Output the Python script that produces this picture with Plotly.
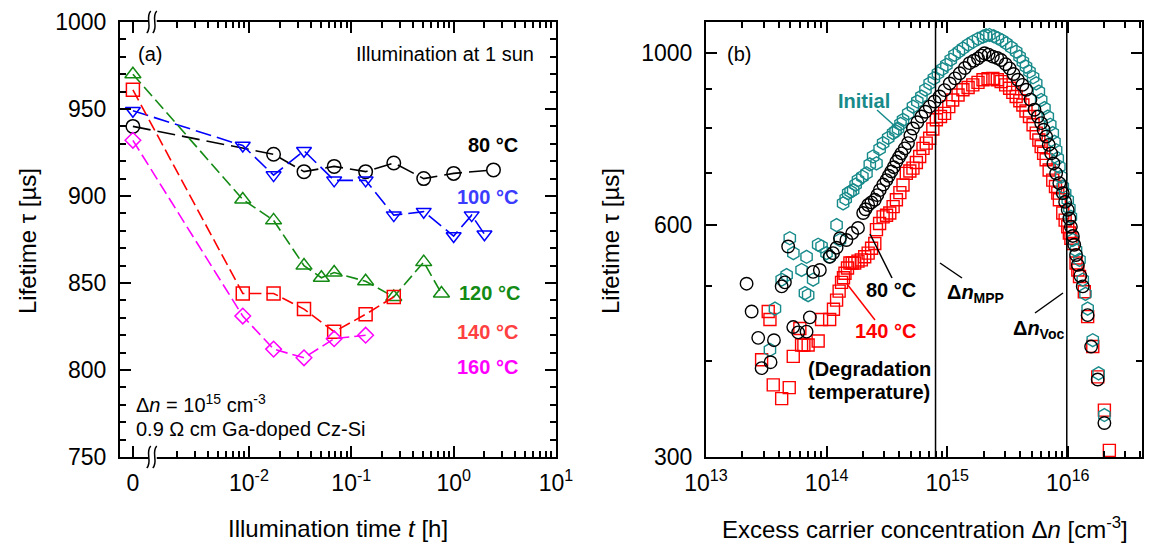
import math
import plotly.graph_objects as go

W, H = 1152, 545
FONT = "Liberation Sans, Arial, sans-serif"

# ---------------- Panel (a): lifetime vs illumination time ----------------
t80 = [0, 0.0174, 0.0345, 0.068, 0.138, 0.26, 0.51, 1.0, 2.45]
tau80 = [940, 924, 914, 917, 914, 919, 910, 913, 915]
t100 = [0, 0.0087, 0.0174, 0.0345, 0.068, 0.138, 0.26, 0.51, 1.0, 1.5, 2.0]
tau100 = [949, 929, 912, 926, 909, 909, 889, 891, 877, 889, 878]
t120 = [0, 0.0087, 0.0174, 0.0345, 0.051, 0.068, 0.138, 0.26, 0.51, 0.76]
tau120 = [970, 898, 886, 860, 853, 856, 851, 842, 862, 844]
t140 = [0, 0.0087, 0.0174, 0.0345, 0.068, 0.138, 0.26]
tau140 = [961, 844, 844, 835, 822, 832, 842]
t160 = [0, 0.0087, 0.0174, 0.0345, 0.068, 0.138]
tau160 = [932, 831, 812, 807, 818, 820]

a_xtick_labels = ["0", "10<sup>-2</sup>", "10<sup>-1</sup>", "10<sup>0</sup>", "10<sup>1</sup>"]
a_ytick_vals = [750, 800, 850, 900, 950, 1000]

# ---------------- Panel (b): lifetime vs excess carrier density (n [cm^-3], tau [us]) ----------------
b_init = [
    (3.39e13, 413), (3.73e13, 467), (4.24e13, 509), (4.66e13, 516), (4.95e13, 576), (5.3e13, 551),
    (6.20e13, 524), (6.61e13, 489), (6.82e13, 545), (7.03e13, 486), (7.73e13, 509), (8.51e13, 565),
    (9.08e13, 562), (9.98e13, 551), (1.06e14, 545), (1.21e14, 599), (1.29e14, 573), (1.37e14, 639),
    (1.44e14, 648), (1.51e14, 659), (1.58e14, 662), (1.66e14, 665), (1.74e14, 676), (1.82e14, 685),
    (1.98e14, 692), (2.14e14, 699), (2.28e14, 718), (2.43e14, 735), (2.59e14, 720), (2.75e14, 752),
    (2.94e14, 765), (3.24e14, 777), (3.56e14, 788), (3.73e14, 793), (3.91e14, 799), (4.1e14, 810),
    (4.30e14, 820), (4.75e14, 836), (5.20e14, 853), (5.65e14, 866), (6.11e14, 879), (6.6e14, 897),
    (7.15e14, 914), (7.75e14, 928), (8.38e14, 942), (9.1e14, 954), (9.84e14, 966), (1.07e15, 981),
    (1.15e15, 995), (1.25e15, 1005), (1.35e15, 1015), (1.49e15, 1026), (1.63e15, 1035), (1.8e15, 1044),
    (1.98e15, 1051), (2.1e15, 1055), (2.24e15, 1056), (2.43e15, 1052), (2.63e15, 1046), (2.85e15, 1039),
    (3.09e15, 1030), (3.4e15, 1018), (3.73e15, 1005), (3.98e15, 990), (4.24e15, 975), (4.5e15, 961),
    (4.81e15, 947), (5.15e15, 931), (5.47e15, 914), (5.75e15, 892), (6.01e15, 870), (6.4e15, 849),
    (6.82e15, 828), (7.15e15, 808), (7.50e15, 788), (7.75e15, 768), (8.00e15, 749), (8.25e15, 731),
    (8.51e15, 713), (8.8e15, 692), (9.08e15, 672), (9.5e15, 659), (9.98e15, 646), (1.03e16, 630),
    (1.06e16, 614), (1.10e16, 573), (1.17e16, 556), (1.25e16, 540), (1.33e16, 509), (1.4e16, 488),
    (1.46e16, 467), (1.61e16, 425), (1.80e16, 385), (2.01e16, 340)]

b_80 = [
    (2.17e13, 503), (2.39e13, 463), (2.71e13, 428), (2.89e13, 391), (3.43e13, 398), (3.66e13, 425),
    (4.24e13, 499), (4.51e13, 505), (4.80e13, 562), (5.29e13, 442), (5.81e13, 435), (6.82e13, 436),
    (7.26e13, 455), (7.73e13, 521), (8.79e13, 524), (1.06e14, 545), (1.13e14, 551), (1.21e14, 560),
    (1.29e14, 576), (1.46e14, 573), (1.63e14, 585), (1.82e14, 594), (2.01e14, 621), (2.1e14, 628),
    (2.21e14, 636), (2.35e14, 641), (2.51e14, 646), (2.63e14, 655), (2.76e14, 665), (2.95e14, 676),
    (3.13e14, 685), (3.28e14, 694), (3.44e14, 703), (3.6e14, 712), (3.79e14, 724), (3.98e14, 733),
    (4.17e14, 742), (4.45e14, 753), (4.73e14, 765), (4.95e14, 782), (5.20e14, 799), (5.65e14, 814),
    (6.11e14, 828), (6.6e14, 840), (7.15e14, 853), (7.85e14, 866), (8.65e14, 879), (9.5e14, 896),
    (1.05e15, 914), (1.16e15, 928), (1.27e15, 942), (1.4e15, 957), (1.53e15, 971), (1.66e15, 978),
    (1.80e15, 985), (1.92e15, 993), (2.04e15, 1000), (2.2e15, 996), (2.39e15, 990), (2.6e15, 986),
    (2.80e15, 980), (3.05e15, 968), (3.29e15, 956), (3.55e15, 940), (3.85e15, 924), (4.2e15, 910),
    (4.52e15, 897), (4.9e15, 871), (5.29e15, 845), (5.65e15, 828), (6.01e15, 812), (6.3e15, 796),
    (6.61e15, 780), (6.95e15, 761), (7.27e15, 742), (7.6e15, 720), (8.00e15, 699), (8.5e15, 679),
    (9.08e15, 659), (9.5e15, 642), (9.98e15, 627), (1.03e16, 611), (1.06e16, 596), (1.1e16, 580),
    (1.13e16, 565), (1.17e16, 548), (1.21e16, 532), (1.27e16, 515), (1.33e16, 499), (1.46e16, 458),
    (1.56e16, 417), (1.77e16, 378), (2.01e16, 332)]

b_140 = [
    (2.89e13, 401), (3.28e13, 463), (3.39e13, 452), (3.61e13, 372), (4.24e13, 357), (4.90e13, 369),
    (5.29e13, 405), (6.00e13, 440), (6.20e13, 419), (6.48e13, 419), (7.03e13, 419), (8.51e13, 424),
    (9.08e13, 452), (1.06e14, 452), (1.14e14, 466), (1.21e14, 479), (1.27e14, 492), (1.33e14, 505),
    (1.38e14, 512), (1.42e14, 519), (1.49e14, 527), (1.56e14, 535), (1.63e14, 535), (1.71e14, 535),
    (1.82e14, 538), (1.94e14, 540), (2.07e14, 545), (2.21e14, 551), (2.36e14, 559), (2.51e14, 567),
    (2.59e14, 591), (2.75e14, 602), (2.94e14, 614), (3.14e14, 617), (3.34e14, 621), (3.56e14, 633),
    (3.79e14, 646), (4.05e14, 660), (4.30e14, 675), (4.58e14, 699), (4.9e14, 704), (5.20e14, 710),
    (5.55e14, 722), (5.91e14, 735), (6.30e14, 753), (6.7e14, 765), (7.15e14, 776), (7.6e14, 798),
    (8.13e14, 820), (8.8e14, 828), (9.51e14, 836), (1.03e15, 853), (1.11e15, 870), (1.23e15, 883),
    (1.35e15, 897), (1.49e15, 903), (1.63e15, 910), (1.8e15, 917), (1.98e15, 924), (2.18e15, 927),
    (2.39e15, 928), (2.6e15, 924), (2.80e15, 919), (3.05e15, 910), (3.29e15, 901), (3.5e15, 890),
    (3.73e15, 879), (4.0e15, 868), (4.24e15, 857), (4.5e15, 842), (4.81e15, 828), (5.15e15, 808),
    (5.47e15, 788), (5.75e15, 772), (6.01e15, 757), (6.3e15, 742), (6.61e15, 728), (7.0e15, 706),
    (7.50e15, 685), (7.9e15, 672), (8.26e15, 659), (8.51e15, 646), (9.08e15, 621), (9.5e15, 608),
    (9.98e15, 596), (1.03e16, 585), (1.06e16, 576), (1.10e16, 567), (1.17e16, 535), (1.21e16, 524),
    (1.25e16, 514), (1.37e16, 491), (1.46e16, 456), (1.61e16, 417), (1.77e16, 381), (2.01e16, 345),
    (2.21e16, 306)]

dn_mpp = 8.0e14
dn_voc = 9.8e15

b_xtick_vals = [1e13, 1e14, 1e15, 1e16]
b_xtick_labels = ["10<sup>13</sup>", "10<sup>14</sup>", "10<sup>15</sup>", "10<sup>16</sup>"]
b_ytick_vals = [300, 600, 1000]
b_yminor_vals = [400, 500, 700, 800, 900]

# ---------------- helpers ----------------
ZERO_POS = -3.134   # axis position standing for t = 0 (left of the break)
BREAK_POS = -2.93


def tpos(ts):
    return [math.log10(t) if t > 0 else ZERO_POS for t in ts]


def px(x):
    return x / W


def py(y):
    return 1 - y / H


fig = go.Figure()

series_a = [
    (t80, tau80, "#000000", "circle-open", 13.5, "18px,7px"),
    (t100, tau100, "#0000ff", "triangle-down-open", 13, "16px,6px"),
    (t120, tau120, "#138a13", "triangle-up-open", 14, "12px,5px"),
    (t140, tau140, "#ff0000", "square-open", 13, "12px,5px"),
    (t160, tau160, "#ff00ff", "diamond-open", 12, "12px,5px"),
]
for t, tau, col, sym, size, dash in series_a:
    fig.add_trace(go.Scatter(
        x=tpos(t), y=tau, mode="lines+markers", xaxis="x", yaxis="y",
        line=dict(color=col, width=1.6, dash=dash),
        marker=dict(symbol=sym, size=size, color=col, line=dict(width=1.5, color=col)),
        showlegend=False, cliponaxis=False, hoverinfo="skip"))

TEAL = "#178a8a"
series_b = [
    (b_140, "#ff0000", "square-open", 12),
    (b_init, TEAL, "hexagon-open", 13),
    (b_80, "#000000", "circle-open", 12.5),
]
for pts, col, sym, size in series_b:
    fig.add_trace(go.Scatter(
        x=[p[0] for p in pts], y=[p[1] for p in pts], mode="markers", xaxis="x2", yaxis="y2",
        marker=dict(symbol=sym, size=size, color=col, line=dict(width=1.4, color=col)),
        showlegend=False, hoverinfo="skip"))

minor_a = [math.log10(k * 10 ** d) for d in range(-3, 1) for k in range(2, 10)]
minor_b = [k * 10 ** d for d in range(13, 17) for k in range(2, 10) if k * 10 ** d < 4.1e16]

common = dict(showline=True, linecolor="black", linewidth=2, mirror="allticks", ticks="inside",
              tickcolor="black", tickwidth=1.5, ticklen=11, showgrid=False, zeroline=False,
              automargin=False,
              tickfont=dict(family=FONT, size=23, color="black"))
minor_common = dict(ticks="inside", ticklen=6, tickcolor="black", tickwidth=1.5, showgrid=False)

ydom = [py(457), py(22)]
fig.update_layout(
    width=W, height=H, margin=dict(l=0, r=0, t=0, b=0, autoexpand=False),
    paper_bgcolor="white", plot_bgcolor="white",
    font=dict(family=FONT, color="black"),
    xaxis=dict(domain=[px(120), px(556)], range=[-3.26, 1.0], anchor="y", ticklabelstandoff=4,
               tickmode="array", tickvals=[ZERO_POS, -2, -1, 0, 1], ticktext=a_xtick_labels,
               minor=dict(tickmode="array", tickvals=minor_a, **minor_common), **common),
    yaxis=dict(domain=ydom, range=[750, 1000], anchor="x", ticklabelstandoff=7,
               tickmode="array", tickvals=a_ytick_vals,
               minor=dict(dtick=10, tick0=750, **minor_common), **common),
    xaxis2=dict(domain=[px(706), px(1142)], type="log", range=[13, 16.615], anchor="y2",
                ticklabelstandoff=4, tickmode="array", tickvals=b_xtick_vals, ticktext=b_xtick_labels,
                minor=dict(tickmode="array", tickvals=minor_b, **minor_common), **common),
    yaxis2=dict(domain=ydom, type="log", range=[math.log10(300), 3.0405], anchor="x2",
                ticklabelstandoff=7, tickmode="array", tickvals=b_ytick_vals,
                minor=dict(tickmode="array", tickvals=b_yminor_vals, **minor_common), **common),
)

shapes = []
# axis break marks on panel (a)
for yb in (22, 457):
    shapes.append(dict(type="rect", xref="x", yref="paper", xsizemode="pixel", ysizemode="pixel",
                       xanchor=BREAK_POS, yanchor=py(yb), x0=-5, x1=3, y0=-3, y1=3,
                       fillcolor="white", line=dict(width=0), layer="above"))
    shapes.append(dict(type="path", xref="x", yref="paper", xsizemode="pixel", ysizemode="pixel",
                       xanchor=BREAK_POS, yanchor=py(yb),
                       path="M -7,-11 C -1,-5 -9,5 -3,11 M -1,-11 C 5,-5 -3,5 3,11",
                       line=dict(color="black", width=1.5), layer="above"))
# vertical reference lines in panel (b)
for xv in (dn_mpp, dn_voc):
    shapes.append(dict(type="line", xref="x2", yref="y2 domain", x0=xv, x1=xv, y0=0, y1=1,
                       line=dict(color="black", width=1.5)))
# leader lines
leaders = [
    ((877, 110), (897, 128), TEAL),
    ((870, 234), (892, 278), "black"),
    ((847, 284), (875, 320), "#ff0000"),
    ((940, 263), (962, 278), "black"),
    ((1035, 313), (1063, 293), "black"),
]
for (x0, y0), (x1, y1), col in leaders:
    shapes.append(dict(type="line", xref="paper", yref="paper", x0=px(x0), y0=py(y0),
                       x1=px(x1), y1=py(y1), line=dict(color=col, width=1.5)))
fig.update_layout(shapes=shapes)

annotations = []


def ann(text, x, y, size=20, color="black", xanchor="center", yanchor="middle", angle=0):
    annotations.append(dict(text=text, x=px(x), y=py(y), xref="paper", yref="paper",
                            xanchor=xanchor, yanchor=yanchor, showarrow=False, textangle=angle,
                            font=dict(family=FONT, size=size, color=color)))


ann("(a)", 150, 54)
ann("Illumination at 1 sun", 536, 54, xanchor="right")
ann("<b>80 °C</b>", 520, 145, xanchor="right")
ann("<b>100 °C</b>", 520, 197, color="#3c3cff", xanchor="right")
ann("<b>120 °C</b>", 522, 293, color="#138a13", xanchor="right")
ann("<b>140 °C</b>", 520, 332, color="#ff4040", xanchor="right")
ann("<b>160 °C</b>", 520, 367, color="#ff00ff", xanchor="right")
ann("Δ<i>n</i> = 10<sup>15</sup> cm<sup>-3</sup>", 134, 403, xanchor="left")
ann("0.9 Ω cm Ga-doped Cz-Si", 134, 429, xanchor="left")

ann("(b)", 739, 54)
ann("<b>Initial</b>", 864, 101, color=TEAL)
ann("<b>80 °C</b>", 891, 290)
ann("<b>140 °C</b>", 885, 331, color="#ff0000")
ann("<b>(Degradation</b>", 869, 369)
ann("<b>temperature)</b>", 869, 392)
ann("<b>Δ<i>n</i><sub>MPP</sub></b>", 945, 293, xanchor="left")
ann("<b>Δ<i>n</i><sub>Voc</sub></b>", 1011, 329, xanchor="left")

ann("Lifetime τ [µs]", 28, 241, size=24, angle=-90)
ann("Illumination time <i>t</i> [h]", 338, 528, size=24)
ann("Lifetime τ [µs]", 611, 241, size=24, angle=-90)
ann("Excess carrier concentration Δ<i>n</i> [cm<sup>-3</sup>]", 925, 528, size=24)

fig.update_layout(annotations=annotations)

fig.write_html("out.html", config={"displayModeBar": False},
               post_script="document.body.style.margin='0';document.body.style.overflow='hidden';")
